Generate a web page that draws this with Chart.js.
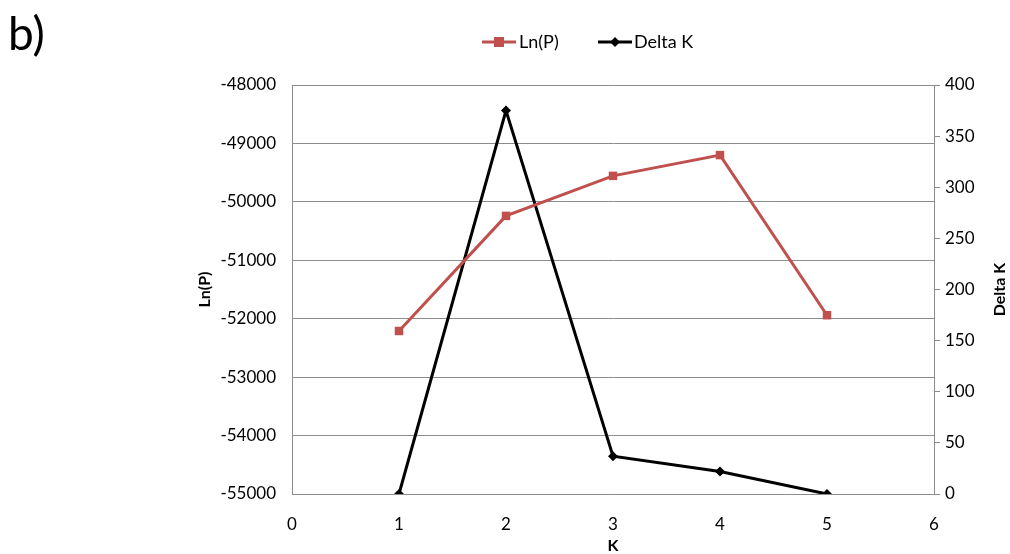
<!DOCTYPE html>
<html>
<head>
<meta charset="utf-8">
<script src="https://cdn.jsdelivr.net/npm/chart.js@4"></script>
<style>
    html, body { margin: 0; padding: 0; background: #fff; }
    #wrap { position: relative; width: 1010px; height: 554px; }
</style>
</head>
<body>
<div id="wrap"><canvas id="kChart" width="1010" height="554"></canvas></div>
<script>
    // values
    const kValues = [1, 2, 3, 4, 5];
    const lnP = [-52210, -50240, -49555, -49200, -51940];
    const deltaK = [0, 375, 37, 22, 0];
    const leftTicks = [-55000, -54000, -53000, -52000, -51000, -50000, -49000, -48000];
    const rightTicks = [0, 50, 100, 150, 200, 250, 300, 350, 400];
    const xTicks = [0, 1, 2, 3, 4, 5, 6];

    const FONT = 'Lato, "Open Sans", sans-serif';
    const RED = '#C0504D';
    const GRID = '#8c8c8c';

    // titles + legend drawn by hand
    const extras = {
        id: 'extras',
        afterDraw(chart) {
            const ctx = chart.ctx;
            const area = chart.chartArea;
            ctx.save();
            ctx.fillStyle = '#000';
            ctx.font = '46px ' + FONT;
            ctx.textAlign = 'left';
            ctx.textBaseline = 'alphabetic';
            ctx.fillText('b)', 8, 50);

            ctx.font = 'bold 16px ' + FONT;
            ctx.textAlign = 'center';
            ctx.textBaseline = 'middle';
            ctx.fillText('K', (area.left + area.right) / 2, 546);

            ctx.save();
            ctx.translate(205, (area.top + area.bottom) / 2);
            ctx.rotate(-Math.PI / 2);
            ctx.fillText('Ln(P)', 0, 0);
            ctx.restore();

            ctx.save();
            ctx.translate(1000, (area.top + area.bottom) / 2);
            ctx.rotate(-Math.PI / 2);
            ctx.fillText('Delta K', 0, 0);
            ctx.restore();

            // legend
            ctx.font = '18px ' + FONT;
            ctx.textAlign = 'left';
            const ly = 42;
            ctx.lineWidth = 3;
            ctx.strokeStyle = RED;
            ctx.beginPath(); ctx.moveTo(482, ly); ctx.lineTo(516, ly); ctx.stroke();
            ctx.fillStyle = RED;
            ctx.fillRect(494, ly - 5, 10, 10);
            ctx.fillStyle = '#000';
            ctx.fillText('Ln(P)', 519, ly);

            ctx.strokeStyle = '#000';
            ctx.beginPath(); ctx.moveTo(598, ly); ctx.lineTo(632, ly); ctx.stroke();
            ctx.beginPath();
            ctx.moveTo(615, ly - 5); ctx.lineTo(620, ly); ctx.lineTo(615, ly + 5); ctx.lineTo(610, ly);
            ctx.closePath(); ctx.fill();
            ctx.fillText('Delta K', 634, ly);
            ctx.restore();
        }
    };

    new Chart(document.getElementById('kChart'), {
        type: 'line',
        data: {
            datasets: [{
                label: 'Ln(P)',
                data: kValues.map((k, i) => ({ x: k, y: lnP[i] })),
                yAxisID: 'y',
                borderColor: RED,
                backgroundColor: RED,
                borderWidth: 3,
                pointStyle: 'rect',
                pointRadius: 6,
                pointBorderWidth: 0,
                tension: 0
            }, {
                label: 'Delta K',
                data: kValues.map((k, i) => ({ x: k, y: deltaK[i] })),
                yAxisID: 'y2',
                borderColor: '#000',
                backgroundColor: '#000',
                borderWidth: 3,
                pointStyle: 'rectRot',
                pointRadius: 5,
                pointBorderWidth: 0,
                tension: 0
            }]
        },
        options: {
            responsive: false,
            animation: false,
            layout: { padding: { top: 85, left: 0, right: 0, bottom: 0 } },
            plugins: { legend: { display: false }, tooltip: { enabled: false } },
            scales: {
                x: {
                    type: 'linear',
                    min: 0,
                    max: 6,
                    afterBuildTicks: (axis) => { axis.ticks = xTicks.map(v => ({ value: v })); },
                    afterFit: (axis) => { axis.height = 60; },
                    grid: { display: false },
                    border: { display: true, color: GRID, width: 1 },
                    ticks: { color: '#000', font: { family: FONT, size: 17 }, padding: 12 }
                },
                y: {
                    position: 'left',
                    min: -55000,
                    max: -48000,
                    afterBuildTicks: (axis) => { axis.ticks = leftTicks.map(v => ({ value: v })); },
                    afterFit: (axis) => { axis.width = 292; },
                    grid: { color: GRID, lineWidth: 1, drawTicks: false },
                    border: { display: true, color: GRID, width: 1 },
                    ticks: {
                        color: '#000',
                        font: { family: FONT, size: 17 },
                        padding: 16,
                        callback: (v) => String(v)
                    }
                },
                y2: {
                    position: 'right',
                    min: 0,
                    max: 400,
                    afterBuildTicks: (axis) => { axis.ticks = rightTicks.map(v => ({ value: v })); },
                    afterFit: (axis) => { axis.width = 76; },
                    grid: { display: true, drawOnChartArea: false, color: GRID, tickLength: 6 },
                    border: { display: true, color: GRID, width: 1 },
                    ticks: { color: '#000', font: { family: FONT, size: 17 }, padding: 5 }
                }
            }
        },
        plugins: [extras]
    });
</script>
</body>
</html>
